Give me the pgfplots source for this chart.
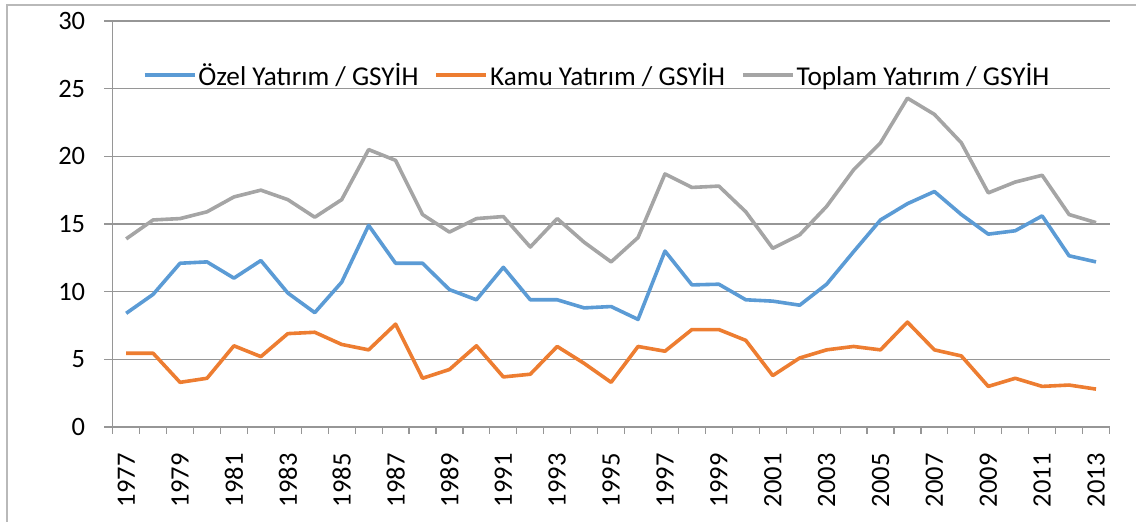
\documentclass[border=0pt]{standalone}
\usepackage{fontspec}
\setmainfont{Carlito}
\usepackage{pgfplots}
\usepackage{pgfplotstable}
\pgfplotsset{compat=1.18}
\definecolor{cblue}{RGB}{91,155,213}
\definecolor{corange}{RGB}{237,125,49}
\definecolor{cgray}{RGB}{165,165,165}
\definecolor{cgrid}{RGB}{150,150,150}
\definecolor{cframe}{RGB}{185,185,185}
\pgfplotstableread{
year ozel kamu toplam
1977 8.4 5.45 13.9
1978 9.8 5.45 15.3
1979 12.1 3.3 15.4
1980 12.2 3.6 15.9
1981 11.0 6.0 17.0
1982 12.3 5.2 17.5
1983 9.9 6.9 16.8
1984 8.45 7.0 15.5
1985 10.7 6.1 16.8
1986 14.9 5.7 20.5
1987 12.1 7.6 19.7
1988 12.1 3.6 15.7
1989 10.15 4.25 14.4
1990 9.4 6.0 15.4
1991 11.8 3.7 15.55
1992 9.4 3.9 13.3
1993 9.4 5.95 15.4
1994 8.8 4.7 13.65
1995 8.9 3.3 12.2
1996 7.95 5.95 14.0
1997 13.0 5.6 18.7
1998 10.5 7.2 17.7
1999 10.55 7.2 17.8
2000 9.4 6.4 15.9
2001 9.3 3.8 13.2
2002 9.0 5.1 14.2
2003 10.55 5.7 16.3
2004 12.95 5.95 19.0
2005 15.3 5.7 21.0
2006 16.5 7.75 24.3
2007 17.4 5.7 23.1
2008 15.7 5.25 21.0
2009 14.25 3.0 17.3
2010 14.5 3.6 18.1
2011 15.6 3.0 18.6
2012 12.65 3.1 15.7
2013 12.2 2.8 15.1
}\datatable
\begin{document}
\begin{tikzpicture}
\path[use as bounding box] (0pt,0pt) rectangle (1136pt,522pt);
\draw[cframe, line width=1.2pt] (7pt,-20pt) -- (7pt,517pt) -- (1160pt,517pt);
\begin{axis}[
  at={(112.7pt,95pt)}, anchor=south west,
  scale only axis, width=996.8pt, height=406pt,
  xmin=1976.5, xmax=2013.5, ymin=0, ymax=30,
  clip=false,
  ytick={0,5,...,30},
  xtick={1977,1979,...,2013},
  xtick pos=left, ytick pos=left,
  axis line style={draw=none},
  tick align=inside,
  major tick length=0pt,
  ymajorgrids, major grid style={cgrid, line width=1.2pt},
  tick label style={font=\fontsize{26.5}{30}\selectfont},
  /pgf/number format/assume math mode=true,
  /pgf/number format/1000 sep={},
  xticklabel={\pgfmathprintnumber{\tick}\kern23pt},
  yticklabel={\pgfmathprintnumber{\tick}\kern24pt},
  xticklabel style={rotate=90, anchor=east},
  yticklabel style={anchor=east},
  legend columns=3,
  legend style={at={(0.486,0.867)}, anchor=center, draw=none, fill=none,
    font=\fontsize{27.2}{32}\selectfont,
    /tikz/every even column/.append style={column sep=14pt}},
  legend image code/.code={\draw[#1] (0pt,0pt) -- (50pt,0pt);},
  legend cell align=left,
]
% axis line and tick marks
\addplot[cgrid, line width=1.2pt, forget plot] coordinates {(1976.5,0) (1976.5,30)};
\addplot[ycomb, cgrid, line width=1.2pt, mark=none, forget plot] coordinates {
(1976.5,-0.554) (1977.5,-0.554) (1978.5,-0.554) (1979.5,-0.554) (1980.5,-0.554)
(1981.5,-0.554) (1982.5,-0.554) (1983.5,-0.554) (1984.5,-0.554) (1985.5,-0.554)
(1986.5,-0.554) (1987.5,-0.554) (1988.5,-0.554) (1989.5,-0.554) (1990.5,-0.554)
(1991.5,-0.554) (1992.5,-0.554) (1993.5,-0.554) (1994.5,-0.554) (1995.5,-0.554)
(1996.5,-0.554) (1997.5,-0.554) (1998.5,-0.554) (1999.5,-0.554) (2000.5,-0.554)
(2001.5,-0.554) (2002.5,-0.554) (2003.5,-0.554) (2004.5,-0.554) (2005.5,-0.554)
(2006.5,-0.554) (2007.5,-0.554) (2008.5,-0.554) (2009.5,-0.554) (2010.5,-0.554)
(2011.5,-0.554) (2012.5,-0.554) (2013.5,-0.554)};
\addplot[cgrid, line width=1.2pt, forget plot] coordinates {(1976.185,0) (1976.5,0)};
\addplot[cgrid, line width=1.2pt, forget plot] coordinates {(1976.185,5) (1976.5,5)};
\addplot[cgrid, line width=1.2pt, forget plot] coordinates {(1976.185,10) (1976.5,10)};
\addplot[cgrid, line width=1.2pt, forget plot] coordinates {(1976.185,15) (1976.5,15)};
\addplot[cgrid, line width=1.2pt, forget plot] coordinates {(1976.185,20) (1976.5,20)};
\addplot[cgrid, line width=1.2pt, forget plot] coordinates {(1976.185,25) (1976.5,25)};
\addplot[cgrid, line width=1.2pt, forget plot] coordinates {(1976.185,30) (1976.5,30)};
% data
\addplot[cblue, line width=3.6pt, line join=round, mark=none] table[x=year, y=ozel] {\datatable};
\addlegendentry{Özel Yatırım / GSYİH}
\addplot[corange, line width=3.6pt, line join=round, mark=none] table[x=year, y=kamu] {\datatable};
\addlegendentry{Kamu Yatırım / GSYİH}
\addplot[cgray, line width=3.6pt, line join=round, mark=none] table[x=year, y=toplam] {\datatable};
\addlegendentry{Toplam Yatırım / GSYİH}
\end{axis}
\end{tikzpicture}
\end{document}
